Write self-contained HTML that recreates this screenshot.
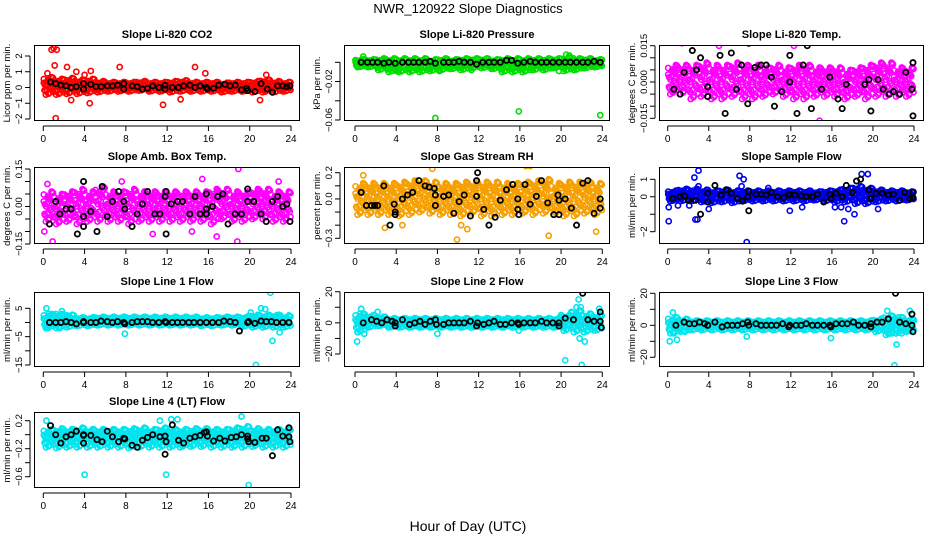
<!DOCTYPE html>
<html><head><meta charset="utf-8"><style>
html,body{margin:0;padding:0;background:#fff;}
svg{display:block;font-family:"Liberation Sans",Arial,sans-serif;}
</style></head><body>
<svg id="chart" width="936" height="540" viewBox="0 0 936 540" xmlns="http://www.w3.org/2000/svg">
<text x="468" y="13" text-anchor="middle" font-size="13">NWR_120922  Slope Diagnostics</text>
<text x="468" y="531" text-anchor="middle" font-size="14">Hour of Day (UTC)</text>
</svg>
<script>
// ---------- data ----------
const xTicks=[0,4,8,12,16,20,24];

const co2Center=[0.1,0.05,0.1,0.05,0.1,0.05,0.05,0.05,0.05,0.1,0.05,0.05,0.05,0.1,0.05,0.05,0.05,0.0,0.05,0.05,0.05,0.1,0.05,0.05];
const co2Spread=[0.55,0.5,0.5,0.45,0.45,0.35,0.3,0.3,0.3,0.3,0.3,0.3,0.35,0.35,0.3,0.3,0.3,0.3,0.3,0.3,0.35,0.4,0.35,0.3];
const co2Black=[[0.7,0.35],[1.2,0.25],[1.7,0.15],[2.2,0.1],[2.7,0.0],[3.2,0.05],[3.9,0.25],[3.9,-0.1],[4.6,0.2],[5.1,0.05],[5.6,0.05],[6.2,0.1],[6.7,0.1],[7.2,0.15],[7.8,0.25],[7.8,-0.1],[8.6,0.1],[9.1,0.05],[9.6,-0.1],[10.1,-0.05],[10.6,0.1],[11.2,0.0],[11.8,0.15],[11.8,-0.1],[12.5,0.0],[13.1,0.0],[13.6,0.1],[14.2,0.15],[14.7,0.0],[15.2,0.1],[15.8,0.0],[15.9,-0.1],[16.5,-0.05],[17.0,0.15],[17.6,0.2],[18.1,0.1],[18.6,0.15],[19.2,-0.15],[19.7,-0.05],[19.8,-0.2],[20.5,-0.25],[21.1,0.25],[21.7,-0.1],[22.2,-0.3],[22.7,0.1],[23.2,0.1],[23.6,0.05],[23.9,0.1]];
const co2Out=[[0.8,2.4],[1.0,2.5],[1.3,2.4],[1.2,-1.95],[2.3,1.3],[3.2,1.0],[4.5,-1.0],[7.4,1.3],[11.6,-1.1],[13.3,-0.75],[14.7,1.3],[15.7,0.9],[21.0,-0.8],[21.6,0.8],[1.1,1.4],[2.7,-0.8],[0.4,0.9],[4.6,1.05],[4.0,0.8]];

const presCenter=[-0.001,-0.001,-0.002,-0.003,-0.003,-0.003,-0.003,-0.003,-0.002,-0.002,-0.002,-0.001,-0.001,-0.002,-0.003,-0.003,-0.003,-0.002,-0.002,-0.001,-0.002,-0.002,-0.001,-0.001];
const presSpread=[0.004,0.004,0.006,0.007,0.007,0.007,0.007,0.006,0.006,0.005,0.006,0.005,0.005,0.005,0.007,0.007,0.007,0.006,0.006,0.005,0.007,0.006,0.005,0.004];
const presBlack=[[0.6,0],[1.2,0],[1.7,0],[2.2,0],[2.8,-0.001],[3.3,0],[3.9,-0.001],[4.6,0],[5.2,0],[5.7,0],[6.2,0],[6.8,0],[7.3,0.001],[7.8,-0.001],[8.6,0],[9.1,0],[9.6,0],[10.1,0.001],[10.6,0],[11.2,0],[11.8,-0.002],[12.4,0],[13.0,0],[13.5,0],[14.1,0],[14.7,0.002],[15.2,0.002],[15.8,-0.001],[16.4,0],[17.0,0.001],[17.5,0],[18.1,0],[18.6,0],[19.2,0],[19.8,0],[20.4,0],[20.9,0],[21.5,0],[22.1,0],[22.6,0],[23.2,0.001],[23.8,0]];
const presOut=[[7.8,-0.058],[15.9,-0.051],[23.8,-0.055],[0.8,0.006],[20.5,0.008],[20.8,0.007],[2.7,0.003],[21.2,0.004],[8.2,-0.009],[11.3,-0.008],[19.8,-0.009],[4.0,-0.009],[3.8,-0.007]];

const tempCenter=[0.001,0.001,0,0.001,0,0,0.001,0,0,0,0.001,0,0,0,0,0,0,-0.001,0,0,0.001,0.001,0,0];
const tempSpread=[0.006,0.006,0.007,0.007,0.007,0.007,0.007,0.007,0.007,0.006,0.006,0.006,0.007,0.007,0.006,0.006,0.006,0.006,0.006,0.007,0.007,0.007,0.006,0.006];
const tempBlack=[[0.6,-0.003],[1.2,-0.005],[1.6,0.004],[2.4,0.013],[2.8,0.005],[3.2,0.01],[3.9,-0.002],[3.9,-0.006],[5.1,0.011],[5.6,-0.013],[6.2,0.012],[6.7,-0.003],[7.2,0.007],[7.8,-0.009],[7.9,0.016],[8.5,0.006],[9.1,0.007],[9.6,0.007],[10.1,0.002],[10.4,-0.01],[11.1,-0.004],[11.9,0.011],[11.9,0.0],[12.6,-0.013],[13.2,0.007],[13.6,0.015],[14.0,-0.011],[15.0,-0.003],[15.8,0.002],[16.6,-0.007],[17.0,-0.011],[17.4,-0.001],[18.6,-0.019],[19.2,-0.001],[19.6,0.001],[19.8,0.018],[19.8,-0.012],[20.5,0.001],[21.0,-0.003],[21.6,-0.005],[22.0,-0.004],[22.6,-0.005],[23.2,0.004],[23.9,0.008],[23.9,-0.014],[23.8,-0.003]];
const tempOut=[[1.4,0.016],[5.8,-0.021],[6.3,0.017],[7.3,-0.017],[17.3,-0.019],[19.8,0.019],[5.0,0.015],[12.3,0.015],[14.8,-0.016],[10.4,-0.017]];

const ambCenter=[0,-0.01,0,0,0,0.01,0,0,0,0,0,0,0,0,0,0,0,0.01,0,0,0.01,0.01,0,0];
const ambSpread=[0.06,0.06,0.06,0.07,0.06,0.07,0.06,0.06,0.07,0.06,0.06,0.06,0.06,0.06,0.06,0.06,0.07,0.06,0.06,0.06,0.06,0.06,0.06,0.06];
const ambBlack=[[0.6,-0.07],[1.2,0.02],[1.6,-0.03],[2.2,-0.01],[2.7,-0.01],[3.3,-0.11],[3.9,0.1],[3.9,-0.04],[3.9,-0.08],[4.6,-0.02],[5.2,-0.1],[5.7,0.08],[6.2,-0.04],[6.7,0.02],[7.3,0.06],[7.8,0.02],[7.9,-0.01],[8.6,-0.08],[9.1,-0.03],[9.6,0.01],[10.1,0.06],[10.8,-0.03],[11.3,-0.03],[11.8,0.04],[11.9,0.06],[11.9,-0.11],[12.4,0.01],[13.0,0.02],[13.5,0.02],[14.2,-0.03],[14.7,0.04],[15.2,-0.03],[15.8,0.05],[15.8,-0.01],[15.8,-0.03],[16.4,0.0],[16.9,0.04],[17.4,0.05],[17.9,-0.07],[18.6,-0.03],[19.2,-0.03],[19.8,0.02],[19.8,0.07],[20.4,0.02],[21.1,-0.03],[21.6,-0.06],[22.2,0.02],[22.7,0.04],[23.2,0.0],[23.6,0.01],[23.9,-0.06]];
const ambOut=[[0.9,-0.14],[18.9,0.15],[18.8,-0.14],[7.6,0.1],[0.4,0.09],[14.4,-0.1],[10.6,-0.11],[0.1,-0.1],[16.8,-0.12],[22.8,0.1],[15.4,0.11]];

const rhCenter=[0,0,0,0,0,0.01,0.02,0.01,0,0,0,0.01,0,0,0,0,0.01,0.01,0.02,0,0,0,0.01,0];
const rhSpread=[0.12,0.12,0.12,0.12,0.13,0.13,0.12,0.12,0.12,0.12,0.13,0.12,0.13,0.13,0.12,0.12,0.12,0.13,0.13,0.12,0.13,0.13,0.12,0.12];
const rhBlack=[[0.6,0.05],[1.1,-0.05],[1.6,-0.05],[1.9,-0.05],[2.2,-0.05],[2.8,0.1],[3.4,-0.2],[3.8,-0.04],[3.9,-0.1],[3.9,-0.12],[4.6,0.0],[5.1,0.03],[5.6,0.05],[6.2,0.14],[6.8,0.1],[7.2,0.09],[7.7,0.08],[7.8,0.03],[7.8,-0.05],[8.6,0.02],[9.1,0.03],[9.6,-0.11],[10.1,-0.02],[10.6,0.03],[11.2,-0.13],[11.8,0.02],[11.8,0.14],[11.9,0.2],[12.5,-0.08],[13.0,-0.2],[13.6,-0.14],[14.1,-0.01],[14.7,0.07],[15.3,0.11],[15.8,0.0],[15.8,-0.08],[15.9,-0.12],[16.5,0.11],[17.0,-0.04],[17.6,0.02],[18.1,0.14],[18.7,-0.03],[19.3,-0.12],[19.7,0.03],[19.8,-0.01],[19.8,-0.12],[20.4,0.0],[21.0,-0.07],[21.5,-0.2],[22.1,0.12],[22.6,0.14],[23.2,-0.11],[23.8,0.0],[23.8,-0.07]];
const rhOut=[[1.9,0.26],[2.3,0.26],[7.5,0.23],[9.9,-0.31],[18.5,0.3],[20.6,-0.36],[18.8,-0.28],[23.4,-0.25],[0.8,0.18],[10.3,-0.2],[20.9,0.26],[2.9,-0.22],[4.6,-0.2],[10.9,-0.23],[16.6,0.25],[17.0,0.25]];

const flowCenter=[0.05,0.1,0.1,0.05,0,0.05,0,0.05,0.05,0.05,0.05,0.05,0.05,0.05,0.05,0.05,0.05,0.1,0.1,0.05,0.05,0.05,0.05,0.05];
const flowSpread=[0.3,0.35,0.35,0.35,0.35,0.35,0.35,0.3,0.3,0.3,0.3,0.3,0.3,0.3,0.25,0.3,0.35,0.4,0.5,0.45,0.35,0.3,0.3,0.25];
const flowBlack=[[0.5,-0.1],[1.2,0.0],[1.6,0.05],[2.0,-0.2],[2.7,-0.2],[3.2,-1.0],[3.9,0.2],[3.9,-0.3],[4.6,0.65],[5.2,0.1],[5.7,0.4],[6.2,0.2],[6.8,-0.1],[7.3,-0.25],[7.8,0.0],[7.9,0.3],[7.9,-0.8],[8.6,0.15],[9.1,0.15],[9.6,0.1],[10.1,0.25],[10.7,0.0],[11.3,-0.05],[11.8,0.1],[11.9,0.15],[12.4,0.1],[13.0,0.05],[13.5,0.0],[14.1,0.0],[14.6,0.15],[15.2,-0.3],[15.8,0.15],[15.9,-0.1],[16.4,0.2],[17.0,0.0],[17.4,0.65],[18.0,0.25],[18.4,0.9],[18.8,1.0],[19.6,0.4],[19.8,-0.1],[20.3,0.2],[20.9,0.2],[21.5,0.1],[22.0,0.15],[22.6,-0.2],[23.1,0.25],[23.6,-0.1],[23.9,0.25],[23.9,-0.05]];
const flowOut=[[0.1,-0.6],[0.1,-1.4],[1.0,-0.5],[2.1,-0.5],[2.6,1.1],[3.0,1.5],[2.7,-1.3],[2.9,-1.3],[3.0,0.6],[4.0,-0.7],[7.0,1.2],[7.4,1.0],[7.7,-2.6],[7.2,0.6],[9.8,0.5],[11.9,-0.8],[13.1,-0.6],[17.2,-1.4],[18.2,-1.0],[18.9,1.3],[19.5,1.3],[20.5,-0.7],[16.3,-0.6],[16.9,-0.6],[17.6,-0.7]];

const l1Center=[0.5,0.5,0.5,0.3,0.3,0.5,0.5,0.5,0.5,0.5,0.5,0.5,0.5,0.5,0.5,0.3,0.3,0.5,0.5,0.3,0.5,0.5,0.5,0.3];
const l1Spread=[2.5,2.5,2.2,1.5,1.5,1.5,1.5,1.5,1.5,1.5,1.5,1.5,1.5,1.5,1.5,1.5,1.5,1.5,1.5,1.8,2.2,2.2,2.2,2];
const l1Black=[[0.6,0],[1.2,0],[1.7,0],[2.2,0.3],[2.7,0],[3.2,-0.5],[3.9,0.3],[3.9,0],[4.6,0],[5.1,0],[5.6,0.5],[6.2,0.3],[6.7,0],[7.2,0.3],[7.8,0],[7.9,-0.5],[8.6,0],[9.1,0.3],[9.6,0.3],[10.1,0.3],[10.6,0],[11.2,0],[11.8,0.3],[11.9,0],[12.5,0],[13.0,0],[13.5,0],[14.1,0],[14.6,0],[15.2,0],[15.8,0],[16.4,0],[17.0,0],[17.5,0.5],[18.1,0.3],[18.6,0],[19.0,-3],[19.8,0],[19.9,0.3],[20.5,-0.3],[21.1,0.5],[21.6,0.3],[22.1,0.3],[22.6,0],[23.2,0],[23.8,0]];
const l1Out=[[0.3,5],[0.5,3],[1.2,3],[1.8,4],[2.3,2.5],[7.9,-4],[20.1,3.5],[20.6,-15],[21.1,5],[21.5,4.7],[22.0,10.5],[22.2,-6.5],[22.6,2.5],[22.9,-3.5],[23.8,2.5],[1.6,-2],[0.4,-2]];

const l2Center=[0,1,1,0,0,0,0,0,0,0,0,0,0,0,0,0,0,0,0,0,0,1,0,0];
const l2Spread=[6,4,3,3,3,3,3,3,3,3,3,3,3,3,3,3,3,3,3,3,5,7,6,5];
const l2Black=[[0.8,0],[1.6,2],[2.1,1],[2.6,0],[3.1,2],[3.6,1],[3.9,-2],[3.9,0],[4.6,2],[5.3,-1],[5.8,0],[6.3,1],[6.8,-1],[7.3,1],[7.8,2],[7.9,-1],[8.6,-1],[9.1,0],[9.6,0],[10.1,0],[10.6,0],[11.2,1],[11.8,-2],[11.9,0],[12.5,-1],[13.0,0],[13.5,1],[14.1,-1],[14.6,-1],[15.2,0],[15.8,0],[15.9,-1],[16.4,0],[17.0,0],[17.5,0],[18.1,1],[18.6,0],[19.2,0],[19.8,0],[19.8,-2],[20.4,3],[21.2,2],[22.1,19],[22.6,2],[23.2,1],[23.8,7],[23.9,-3],[23.8,1]];
const l2Out=[[0.2,-12],[0.3,-6],[0.5,6],[0.6,9],[0.9,-7],[2.2,7],[8.0,-7],[15.9,-5],[20.0,5],[20.4,-24],[21.0,7],[21.5,10],[21.7,15],[21.9,10],[21.8,-10],[22.0,-27],[22.3,-12],[23.7,9],[22.2,-6]];

const l3Center=[0,0,0,0,0,0,0,0,0,0,0,0,0,0,0,0,0,0,0,0,0,0,0,0];
const l3Spread=[5,4,3,3,3,3,3,3,3,3,3,3,3,3,3,3,3,3,3,3,4,6,5,4];
const l3Black=[[0.8,0],[1.6,2],[2.1,1],[2.6,1],[3.1,2],[3.6,1],[3.9,0],[3.9,0],[4.6,2],[5.3,-1],[5.8,0],[6.3,0],[6.8,0],[7.3,1],[7.8,2],[7.9,0],[8.6,1],[9.1,0],[9.6,0],[10.1,0],[10.6,0],[11.2,1],[11.8,-1],[11.9,0],[12.5,0],[13.0,0],[13.5,1],[14.1,0],[14.6,0],[15.2,0],[15.8,0],[15.9,-1],[16.4,1],[17.0,1],[17.5,1],[18.1,2],[18.6,0],[19.2,0],[19.8,1],[19.8,-1],[20.4,2],[20.9,2],[21.5,4],[22.2,20],[22.6,2],[23.2,1],[23.8,7],[23.9,-4],[23.8,0]];
const l3Out=[[0.2,-10],[0.5,8],[0.6,-5],[0.9,-9],[1.7,-4],[7.7,-7],[15.9,-8],[21.4,9],[21.8,-5],[22.1,-25],[22.3,-12],[22.5,5],[22.8,-5],[21.2,-3],[23.6,9],[24.0,3]];

const l4Center=[-0.05,-0.05,-0.05,-0.04,-0.05,-0.05,-0.05,-0.05,-0.05,-0.04,-0.05,-0.04,-0.05,-0.05,-0.04,-0.04,-0.05,-0.05,-0.04,-0.03,-0.04,-0.05,-0.05,-0.05];
const l4Spread=[0.13,0.14,0.13,0.14,0.13,0.13,0.13,0.13,0.14,0.14,0.13,0.14,0.13,0.13,0.13,0.13,0.13,0.13,0.14,0.15,0.13,0.13,0.13,0.13];
const l4Black=[[0.7,0.13],[1.2,0.0],[1.7,-0.12],[2.2,-0.03],[2.7,0.0],[3.2,0.05],[3.9,-0.01],[3.9,0.0],[3.9,-0.12],[4.6,-0.01],[5.2,-0.07],[5.7,-0.1],[6.2,0.05],[6.7,-0.03],[7.3,-0.1],[7.8,-0.05],[7.9,-0.06],[8.6,-0.15],[9.1,-0.18],[9.6,-0.08],[10.1,-0.04],[10.6,0.0],[11.3,-0.03],[11.8,-0.02],[11.9,-0.1],[11.8,-0.28],[12.5,0.14],[13.1,-0.08],[13.6,-0.12],[14.2,-0.05],[14.7,-0.03],[15.2,-0.01],[15.6,0.03],[15.8,0.04],[15.9,-0.02],[16.5,-0.09],[17.1,-0.05],[17.6,-0.09],[18.2,-0.04],[18.7,-0.03],[19.2,0.0],[19.8,-0.02],[19.8,-0.06],[19.9,-0.1],[20.5,-0.11],[21.2,-0.05],[21.6,-0.05],[22.2,-0.3],[22.7,0.07],[23.2,-0.02],[23.8,0.1],[23.8,-0.03],[23.9,-0.1]];
const l4Out=[[4.0,-0.57],[11.9,-0.57],[19.9,-0.72],[0.3,0.2],[12.4,0.22],[19.2,0.26],[11.3,0.2],[13.0,0.22]];

// ---------- layout ----------
const cols=[{l:34,r:300,x0:43.3,x24:291},{l:344,r:610,x0:355,x24:602.3},{l:659,r:924,x0:667.7,x24:914}];
const rows=[{t:45,b:121},{t:167,b:244},{t:292,b:367},{t:412,b:488}];
const panels=[
 {key:'co2',title:'Slope Li-820 CO2',ylab:'Licor ppm per min.',c:0,r:0,col:'#ff0000',ya:2,pa:56,yb:-2,pb:119,ticks:[-2,-1,0,1,2],tickLabels:['\u22122','\u22121','0','1','2'],center:co2Center,spread:co2Spread,black:co2Black,out:co2Out},
 {key:'pres',title:'Slope Li-820 Pressure',ylab:'kPa per min.',c:1,r:0,col:'#00dd00',ya:0,pa:62.3,yb:-0.06,pb:120,ticks:[-0.06,-0.04,-0.02,0],tickLabels:['\u22120.06','','\u22120.02',''],center:presCenter,spread:presSpread,black:presBlack,out:presOut},
 {key:'temp',title:'Slope Li-820 Temp.',ylab:'degrees C per min.',c:2,r:0,col:'#ff00ff',ya:0.015,pa:45.7,yb:-0.015,pb:118.3,ticks:[-0.015,-0.01,-0.005,0,0.005,0.01,0.015],tickLabels:['\u22120.015','','','0.000','','','0.015'],center:tempCenter,spread:tempSpread,black:tempBlack,out:tempOut},
 {key:'amb',title:'Slope Amb. Box Temp.',ylab:'degrees C per min.',c:0,r:1,col:'#ff00ff',ya:0.15,pa:169,yb:-0.15,pb:244,ticks:[-0.15,-0.1,-0.05,0,0.05,0.1,0.15],tickLabels:['\u22120.15','','','0.00','','','0.15'],center:ambCenter,spread:ambSpread,black:ambBlack,out:ambOut},
 {key:'rh',title:'Slope Gas Stream RH',ylab:'percent per min.',c:1,r:1,col:'#f5a000',ya:0.2,pa:172.7,yb:-0.3,pb:238.3,ticks:[-0.3,-0.2,-0.1,0,0.1,0.2],tickLabels:['\u22120.3','','','0.0','','0.2'],center:rhCenter,spread:rhSpread,black:rhBlack,out:rhOut},
 {key:'flow',title:'Slope Sample Flow',ylab:'ml/min per min.',c:2,r:1,col:'#0000ee',ya:1,pa:179.3,yb:-2,pb:231.7,ticks:[-2,-1,0,1],tickLabels:['\u22122','','0','1'],center:flowCenter,spread:flowSpread,black:flowBlack,out:flowOut},
 {key:'l1',title:'Slope Line 1 Flow',ylab:'ml/min per min.',c:0,r:2,col:'#00e5ee',ya:5,pa:308.3,yb:-15,pb:365,ticks:[-15,-10,-5,0,5],tickLabels:['\u221215','','\u22125','','5'],center:l1Center,spread:l1Spread,black:l1Black,out:l1Out},
 {key:'l2',title:'Slope Line 2 Flow',ylab:'ml/min per min.',c:1,r:2,col:'#00e5ee',ya:20,pa:291.7,yb:-20,pb:354,ticks:[-20,-10,0,10,20],tickLabels:['\u221220','','0','','20'],center:l2Center,spread:l2Spread,black:l2Black,out:l2Out},
 {key:'l3',title:'Slope Line 3 Flow',ylab:'ml/min per min.',c:2,r:2,col:'#00e5ee',ya:20,pa:293.3,yb:-20,pb:357.3,ticks:[-20,-10,0,10,20],tickLabels:['\u221220','','0','','20'],center:l3Center,spread:l3Spread,black:l3Black,out:l3Out},
 {key:'l4',title:'Slope Line 4 (LT) Flow',ylab:'ml/min per min.',c:0,r:3,col:'#00e5ee',ya:0.2,pa:420.7,yb:-0.6,pb:476.7,ticks:[-0.6,-0.4,-0.2,0,0.2],tickLabels:['\u22120.6','','\u22120.2','','0.2'],center:l4Center,spread:l4Spread,black:l4Black,out:l4Out}
];
// fixed cluster pattern (purely visual density)
const JX=[-0.45,-0.3,-0.15,0.0,0.15,0.3,0.45,-0.38,-0.22,-0.07,0.08,0.23,0.38,-0.45,-0.25,-0.05,0.12,0.3,0.45,-0.35,-0.12,0.05,0.2,0.4];
const JY=[0.8,-0.6,0.2,-0.9,0.5,-0.2,0.9,-0.5,0.0,0.6,-0.8,0.4,-0.35,0.35,-1.0,0.7,-0.1,1.0,-0.7,0.15,-0.45,0.55,-0.25,0.95];

const NS='http://www.w3.org/2000/svg';
const svg=document.getElementById('chart');
function mk(tag,attrs,parent){const e=document.createElementNS(NS,tag);for(const k in attrs)e.setAttribute(k,attrs[k]);(parent||svg).appendChild(e);return e;}

panels.forEach(p=>{
  const C=cols[p.c],R=rows[p.r];
  const xs=h=>C.x0+(C.x24-C.x0)*h/24;
  const ys=v=>p.pa+(v-p.ya)*(p.pb-p.pa)/(p.yb-p.ya);
  const g=mk('g',{});
  
  
  const clip=mk('clipPath',{id:'clip-'+p.key},g);
  mk('rect',{x:C.l,y:R.t,width:C.r-C.l,height:R.b-R.t},clip);
  const pts=mk('g',{'clip-path':'url(#clip-'+p.key+')'},g);
  const colored=mk('g',{fill:'none',stroke:p.col,'stroke-width':1.6},pts);
  
  
  p.center.forEach((cv,i)=>{
    JX.forEach((jx,k)=>{
      const c=mk('circle',{cx:xs(i+0.5+jx),cy:ys(cv+JY[k]*p.spread[i]),r:2.6},colored);
      
      
    });
  });
  p.out.forEach(o=>{
    const c=mk('circle',{cx:xs(o[0]),cy:ys(o[1]),r:2.6},colored);
    
    
  });
  const blk=mk('g',{fill:'none',stroke:'#000','stroke-width':1.8},pts);
  
  
  p.black.forEach(o=>{
    const c=mk('circle',{cx:xs(o[0]),cy:ys(o[1]),r:2.6},blk);
    
    
  });
  const fr=mk('rect',{x:C.l+0.5,y:R.t+0.5,width:C.r-C.l-1,height:R.b-R.t-1,fill:'none',stroke:'#000','stroke-width':1},g);
  
  
  const t=mk('text',{x:(C.l+C.r)/2,y:R.t-7,'text-anchor':'middle','font-size':11,'font-weight':'bold'},g);
  t.textContent=p.title;
  
  
  const xa=mk('g',{},g);
  
  
  mk('line',{x1:xs(0),x2:xs(24),y1:R.b+5,y2:R.b+5,stroke:'#000'},xa);
  xTicks.forEach(v=>{
    mk('line',{x1:xs(v),x2:xs(v),y1:R.b+5,y2:R.b+10,stroke:'#000'},xa);
    const tl=mk('text',{x:xs(v),y:R.b+21,'text-anchor':'middle','font-size':10},xa);
    tl.textContent=String(v);
    
    
  });
  const ya=mk('g',{},g);
  
  
  const ax=C.l-4;
  mk('line',{x1:ax,x2:ax,y1:ys(p.ticks[0]),y2:ys(p.ticks[p.ticks.length-1]),stroke:'#000'},ya);
  p.ticks.forEach((v,i)=>{
    const y=ys(v);
    mk('line',{x1:ax-5,x2:ax,y1:y,y2:y,stroke:'#000'},ya);
    const lab=p.tickLabels[i];
    if(!lab)return;
    const tl=mk('text',{x:ax-8,y:y,'text-anchor':'middle','font-size':9.5,transform:'rotate(-90 '+(ax-8)+' '+y+')'},ya);
    tl.textContent=lab;
    
    
  });
  const yt=mk('text',{x:C.l-24,y:(R.t+R.b)/2,'text-anchor':'middle','font-size':9.5,transform:'rotate(-90 '+(C.l-24)+' '+((R.t+R.b)/2)+')'},g);
  yt.textContent=p.ylab;
  
  
});
</script>
</body></html>
